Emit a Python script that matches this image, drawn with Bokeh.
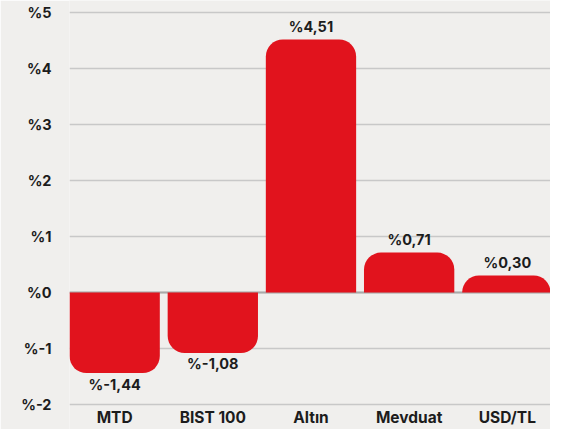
from bokeh.plotting import figure
from bokeh.models import FixedTicker, ColumnDataSource, Range1d, Span
from bokeh.core.properties import value
from bokeh.embed import file_html
from bokeh.resources import INLINE

categories = ["MTD", "BIST 100", "Altın", "Mevduat", "USD/TL"]
values = [-1.44, -1.08, 4.51, 0.71, 0.30]
value_labels = ["%-1,44", "%-1,08", "%4,51", "%0,71", "%0,30"]
y_ticks = [-2, -1, 0, 1, 2, 3, 4, 5]
y_tick_labels = ["%-2", "%-1", "%0", "%1", "%2", "%3", "%4", "%5"]

BG = "#f0efed"
RED = "#e1131d"
TXT = "#1c1c1c"
FONT = "Inter"

xs = list(range(len(categories)))
pos = dict(x=[x for x, v in zip(xs, values) if v >= 0],
           v=[v for v in values if v >= 0],
           lab=[l for l, v in zip(value_labels, values) if v >= 0])
neg = dict(x=[x for x, v in zip(xs, values) if v < 0],
           v=[v for v in values if v < 0],
           lab=[l for l, v in zip(value_labels, values) if v < 0])
src_pos = ColumnDataSource(pos)
src_neg = ColumnDataSource(neg)
src_cat = ColumnDataSource(dict(x=xs, y=[min(y_ticks)] * len(xs), name=categories))

p = figure(width=550, height=429, output_backend="svg", toolbar_location=None,
           x_range=Range1d(-0.46, 4.44), y_range=Range1d(-2.446, 5.207),
           min_border_left=69, min_border_right=0, min_border_top=0,
           min_border_bottom=0,
           background_fill_color=BG, border_fill_color=BG,
           outline_line_color=None)

p.xaxis.visible = False
p.xgrid.visible = False
p.ygrid.ticker = FixedTicker(ticks=y_ticks)
p.ygrid.grid_line_color = "#c8c8c8"
p.ygrid.grid_line_width = 1.5

p.add_layout(Span(location=0, dimension="width", line_color="#a9a9a9",
                  line_width=2, level="underlay"))

p.vbar(x="x", top="v", bottom=0, width=0.92, source=src_pos,
       fill_color=RED, line_color=None, border_radius=(17, 17, 0, 0))
p.vbar(x="x", top=0, bottom="v", width=0.92, source=src_neg,
       fill_color=RED, line_color=None, border_radius=(0, 0, 17, 17))

common = dict(text_align="center", text_baseline="middle", text_color=TXT,
              text_font=value(FONT), text_font_style="bold")
p.text(x="x", y="v", text="lab", source=src_pos, y_offset=-13,
       text_font_size="14.5px", **common)
p.text(x="x", y="v", text="lab", source=src_neg, y_offset=11,
       text_font_size="14.5px", **common)
p.text(x="x", y="y", text="name", source=src_cat, y_offset=13,
       text_font_size="15.5px", **common)

ax = p.yaxis[0]
ax.ticker = FixedTicker(ticks=y_ticks)
ax.major_label_overrides = dict(zip(y_ticks, y_tick_labels))
ax.axis_line_color = None
ax.major_tick_line_color = None
ax.minor_tick_line_color = None
ax.major_label_text_font = FONT
ax.major_label_text_font_style = "bold"
ax.major_label_text_font_size = "14.5px"
ax.major_label_text_color = TXT
ax.major_label_standoff = 12

open("out.html", "w").write(file_html(p, INLINE))
